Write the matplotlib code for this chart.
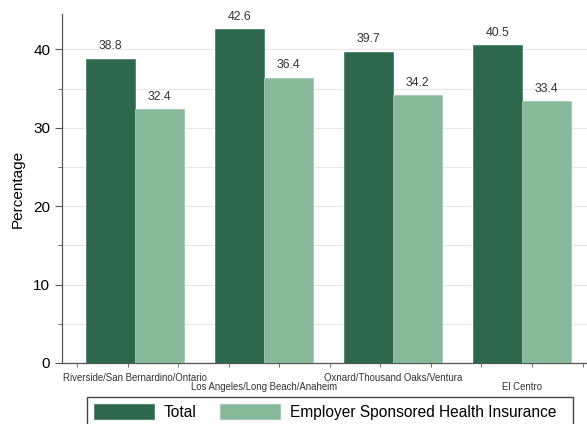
import numpy as np
import matplotlib.pyplot as plt
from matplotlib.patches import Rectangle
from matplotlib.ticker import MultipleLocator

plt.rcParams['font.family'] = ['Liberation Sans', 'DejaVu Sans']

# Metro areas and their percentages
regions = ['Riverside/San Bernardino/Ontario', 'Los Angeles/Long Beach/Anaheim',
           'Oxnard/Thousand Oaks/Ventura', 'El Centro']
total = [38.8, 42.6, 39.7, 40.5]
employer = [32.4, 36.4, 34.2, 33.4]
series_names = ['Total', 'Employer Sponsored Health Insurance']

dark_green = '#2e684c'
light_green = '#89b99b'

W, H = 587, 424
fig = plt.figure(figsize=(W / 100, H / 100), dpi=100)
ax = fig.add_axes([62 / W, 61 / H, 1 - 62 / W, 349 / H])

x = np.arange(len(regions))
w = 0.38
b1 = ax.bar(x - w / 2, total, w, color=dark_green, edgecolor='#4c8466', linewidth=0.6, zorder=3)
b2 = ax.bar(x + w / 2, employer, w, color=light_green, edgecolor='#a3c9b0', linewidth=0.6, zorder=3)

# value labels above each bar
for bars, vals in [(b1, total), (b2, employer)]:
    for rect, v in zip(bars, vals):
        ax.text(rect.get_x() + rect.get_width() / 2, v + 0.8, f'{v:.1f}',
                ha='center', va='bottom', fontsize=8.8, color='#333333')

ax.set_xlim(-0.566, 3.504)
ax.set_ylim(0, 44.5)

ax.yaxis.set_major_locator(MultipleLocator(10))
ax.yaxis.set_minor_locator(MultipleLocator(5))
ax.tick_params(axis='y', which='major', labelsize=11, length=5, color='#555555')
ax.tick_params(axis='y', which='minor', length=3, color='#555555')
ax.set_ylabel('Percentage', fontsize=11, labelpad=6)
ax.grid(axis='y', which='both', color='#e8e8e8', linewidth=0.8, zorder=0)

# staggered category labels, small ticks along the bottom
ax.set_xticks(np.arange(-0.45, 3.6, 0.392), minor=True)
ax.tick_params(axis='x', which='minor', length=3, color='#555555')
ax.set_xticks([])
for i, name in enumerate(regions):
    ax.text(i, -1.3 - (i % 2) * 1.1, name, transform=ax.transData, ha='center', va='top',
            fontsize=6.9, color='#333333')

for s in ['top', 'right']:
    ax.spines[s].set_visible(False)
for s in ['left', 'bottom']:
    ax.spines[s].set_color('#555555')
    ax.spines[s].set_linewidth(0.9)

# legend, with its box running off the bottom edge
fig.legend([b1, b2], series_names, loc='upper left',
           bbox_to_anchor=(87 / W, 27 / H),
           ncol=2, fontsize=11.2, frameon=False,
           handlelength=3.85, handleheight=1.15, handletextpad=0.65,
           columnspacing=1.5, borderpad=0.45, borderaxespad=0)
fig.patches.append(Rectangle((87 / W, -10 / H), (573 - 87) / W, 37 / H,
                             transform=fig.transFigure, fill=False,
                             edgecolor='#444444', linewidth=1.0))

fig.savefig('out.png', dpi=100)
